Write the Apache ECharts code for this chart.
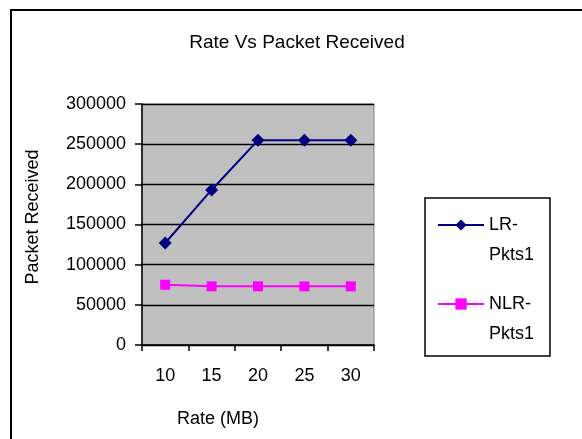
<!DOCTYPE html>
<html>
<head>
<meta charset="utf-8">
<script src="https://cdn.jsdelivr.net/npm/echarts@6/dist/echarts.min.js"></script>
<style>
  html, body { margin: 0; padding: 0; background: #fff; }
  #chart { width: 582px; height: 439px; }
</style>
</head>
<body>
<div id="chart"></div>
<script>
// Rates on the x axis and packets received for each routing variant
var rates = ['10', '15', '20', '25', '30'];
var lrPkts = [127000, 193000, 255000, 255000, 255000];
var nlrPkts = [75000, 73000, 73000, 73000, 73000];
var seriesNames = ['LR-Pkts1', 'NLR-Pkts1'];

var FONT = '"Liberation Sans", Arial, sans-serif';

var chart = echarts.init(document.getElementById('chart'), null, { renderer: 'canvas' });

chart.setOption({
  backgroundColor: '#ffffff',
  animation: false,
  title: {
    text: 'Rate Vs Packet Received',
    left: 292,
    top: 28,
    textAlign: 'center',
    textStyle: { fontFamily: FONT, fontSize: 19, fontWeight: 'normal', color: '#000' }
  },
  grid: {
    left: 142, right: 208, top: 104, bottom: 94,
    show: true,
    backgroundColor: '#c0c0c0',
    borderColor: '#808080',
    borderWidth: 1
  },
  legend: {
    data: seriesNames,
    orient: 'vertical',
    left: 437,
    top: 180,
    padding: 0,
    itemWidth: 46,
    itemHeight: 14,
    itemGap: -11,
    selectedMode: false,
    // blank first line keeps the icon level with the first text line
    formatter: function (name) { return '\u00a0\n' + name.replace('-', '-\n'); },
    textStyle: { fontFamily: FONT, fontSize: 18, color: '#000', lineHeight: 30 }
  },
  xAxis: {
    type: 'category',
    data: rates,
    boundaryGap: true,
    name: 'Rate (MB)',
    nameLocation: 'middle',
    nameGap: 65,
    nameTextStyle: { fontFamily: FONT, fontSize: 18, color: '#000', padding: [0, 80, 0, 0] },
    axisLine: { lineStyle: { color: '#000', width: 1.5 } },
    axisTick: { show: true, length: 6, alignWithLabel: false, lineStyle: { color: '#000', width: 1.5 } },
    axisLabel: { margin: 22, fontFamily: FONT, fontSize: 18, color: '#000' },
    splitLine: { show: false }
  },
  yAxis: {
    type: 'value',
    min: 0,
    max: 300000,
    interval: 50000,
    name: 'Packet Received',
    nameLocation: 'middle',
    nameGap: 100,
    nameTextStyle: { fontFamily: FONT, fontSize: 18, color: '#000', padding: [0, 0, 0, 15] },
    axisLine: { show: true, lineStyle: { color: '#000', width: 1.5 } },
    axisTick: { show: true, length: 7, lineStyle: { color: '#000', width: 1.5 } },
    axisLabel: {
      margin: 16, fontFamily: FONT, fontSize: 18, color: '#000',
      formatter: function (v) { return String(v); }
    },
    splitLine: { show: true, lineStyle: { color: '#000', width: 1.3 } }
  },
  graphic: [
    {
      // outer chart frame
      type: 'rect',
      shape: { x: 11, y: 10, width: 600, height: 460 },
      style: { fill: 'none', stroke: '#000', lineWidth: 2 },
      silent: true, z: 100
    },
    {
      // legend frame
      type: 'rect',
      shape: { x: 425, y: 198, width: 125, height: 158 },
      style: { fill: 'none', stroke: '#000', lineWidth: 1.5 },
      silent: true, z: 100
    }
  ],
  series: [
    {
      name: seriesNames[0],
      type: 'line',
      data: lrPkts,
      symbol: 'diamond',
      symbolSize: [13, 13],
      lineStyle: { color: '#000080', width: 2 },
      itemStyle: { color: '#000080' }
    },
    {
      name: seriesNames[1],
      type: 'line',
      data: nlrPkts,
      symbol: 'rect',
      symbolSize: [10, 10],
      lineStyle: { color: '#ff00ff', width: 2 },
      itemStyle: { color: '#ff00ff' }
    }
  ]
});
</script>
</body>
</html>
